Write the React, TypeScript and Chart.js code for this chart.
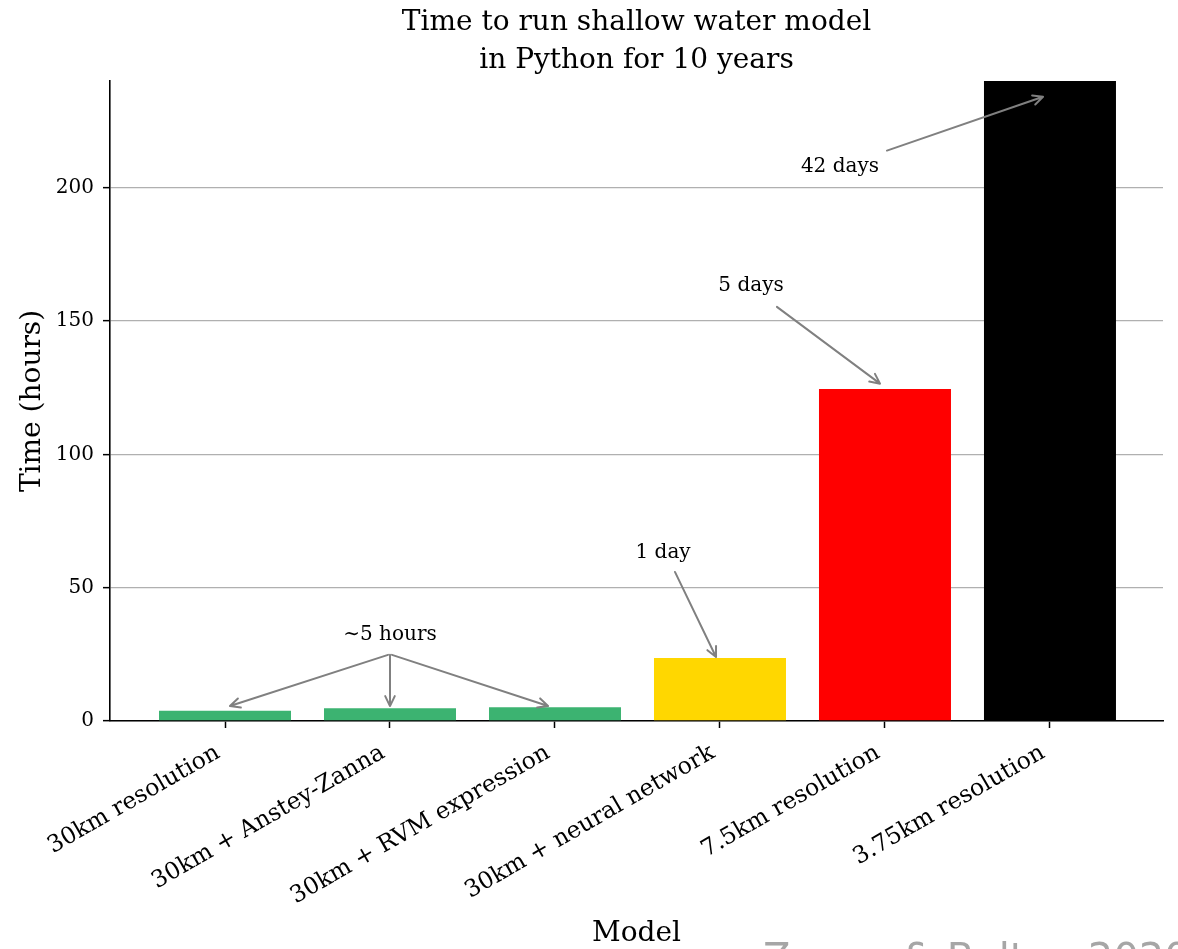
import { useEffect, useRef } from "react";
import { Chart, registerables } from "chart.js";

Chart.register(...registerables);

// Model variants and their run time (hours) for a 10-year simulation
const models = [
  "30km resolution",
  "30km + Anstey-Zanna",
  "30km + RVM expression",
  "30km + neural network",
  "7.5km resolution",
  "3.75km resolution",
];
const hours = [3.8, 4.8, 5.2, 23.6, 124.5, 1008];
const barColors = ["#3cb371", "#3cb371", "#3cb371", "#ffd700", "#ff0000", "#000000"];
const yTicks = [0, 50, 100, 150, 200];

// Text callouts, in data coordinates
const noteText = ["\u223c5 hours", "1 day", "5 days", "42 days"];
const noteX = [1.0, 2.655, 3.188, 3.727];
const noteY = [32.3, 63.0, 163.2, 207.9];

// Callout arrows (tail -> head), in data coordinates
const arrowTailX = [0.988, 1.0, 1.012, 2.727, 3.345, 4.012];
const arrowTailY = [24.8, 24.8, 24.8, 55.9, 155.3, 213.9];
const arrowHeadX = [0.03, 1.0, 1.958, 2.976, 3.97, 4.958];
const arrowHeadY = [5.6, 5.6, 5.6, 24.0, 126.5, 234.1];

const SERIF = "'DejaVu Serif', serif";

const notesPlugin = {
  id: "notes",
  afterDatasetsDraw(chart: any) {
    const { ctx, scales } = chart;
    const xs = scales.x;
    const ys = scales.y;
    ctx.save();
    ctx.strokeStyle = "#808080";
    ctx.lineWidth = 2;
    ctx.lineCap = "round";
    ctx.lineJoin = "round";
    for (let i = 0; i < arrowTailX.length; i++) {
      const x0 = xs.getPixelForValue(arrowTailX[i]);
      const y0 = ys.getPixelForValue(arrowTailY[i]);
      const x1 = xs.getPixelForValue(arrowHeadX[i]);
      const y1 = ys.getPixelForValue(arrowHeadY[i]);
      const ang = Math.atan2(y1 - y0, x1 - x0);
      const hl = 11;
      const ha = 0.45;
      ctx.beginPath();
      ctx.moveTo(x0, y0);
      ctx.lineTo(x1, y1);
      ctx.moveTo(x1 - hl * Math.cos(ang - ha), y1 - hl * Math.sin(ang - ha));
      ctx.lineTo(x1, y1);
      ctx.lineTo(x1 - hl * Math.cos(ang + ha), y1 - hl * Math.sin(ang + ha));
      ctx.stroke();
    }
    ctx.fillStyle = "#000";
    ctx.font = `20px ${SERIF}`;
    ctx.textAlign = "center";
    ctx.textBaseline = "middle";
    for (let i = 0; i < noteText.length; i++) {
      ctx.fillText(noteText[i], xs.getPixelForValue(noteX[i]), ys.getPixelForValue(noteY[i]));
    }
    ctx.restore();
  },
};

const creditPlugin = {
  id: "credit",
  afterDraw(chart: any) {
    const { ctx } = chart;
    ctx.save();
    ctx.fillStyle = "#a6a6a6";
    ctx.font = "40px 'DejaVu Sans', sans-serif";
    ctx.textAlign = "left";
    ctx.textBaseline = "alphabetic";
    ctx.fillText("Zanna & Bolton 2020", 763, 972);
    ctx.restore();
  },
};

export default function App() {
  const ref = useRef<HTMLCanvasElement>(null);

  useEffect(() => {
    if (!ref.current) return;
    const chart = new Chart(ref.current, {
      type: "bar",
      data: {
        datasets: [
          {
            data: hours.map((v, i) => ({ x: i, y: v })),
            backgroundColor: barColors,
            borderWidth: 0,
            barPercentage: 0.8,
            categoryPercentage: 1,
          },
        ],
      },
      options: {
        responsive: false,
        animation: false,
        devicePixelRatio: 1,
        layout: { padding: { left: 0, right: 15, top: 0, bottom: 0 } },
        plugins: {
          legend: { display: false },
          tooltip: { enabled: false },
          title: {
            display: true,
            fullSize: false,
            text: ["Time to run shallow water model", "in Python for 10 years"],
            color: "#000",
            font: { family: SERIF, size: 28, weight: "normal", lineHeight: 1.357 },
            padding: { top: 4, bottom: 1 },
          },
        },
        scales: {
          x: {
            type: "linear",
            min: -0.697,
            max: 5.685,
            offset: false,
            z: 1,
            afterBuildTicks: (s: any) => {
              s.ticks = models.map((_, i) => ({ value: i }));
            },
            afterFit: (s: any) => {
              s.height = 228;
            },
            grid: {
              offset: false,
              drawOnChartArea: false,
              drawTicks: true,
              tickLength: 7,
              tickColor: "#000",
              tickWidth: 1.5,
            },
            border: { display: true, color: "#000", width: 1.6 },
            ticks: {
              callback: (v: any) => models[Number(v)] ?? "",
              autoSkip: false,
              maxRotation: 30,
              minRotation: 30,
              color: "#000",
              font: { family: SERIF, size: 23.5, weight: "normal" },
              padding: 11,
              labelOffset: -7,
            },
            title: {
              display: true,
              text: "Model",
              color: "#000",
              font: { family: SERIF, size: 28, weight: "normal", lineHeight: 1 },
              padding: { top: 0, bottom: 1 },
            },
          },
          y: {
            min: 0,
            max: 240,
            afterBuildTicks: (s: any) => {
              s.ticks = yTicks.map((v) => ({ value: v }));
            },
            afterFit: (s: any) => {
              s.width = 110;
            },
            grid: {
              color: "#b0b0b0",
              lineWidth: 1.3,
              tickColor: "#000",
              tickLength: 7,
              tickWidth: 1.5,
            },
            border: { display: true, color: "#000", width: 1.6 },
            ticks: { color: "#000", font: { family: SERIF, size: 20, weight: "normal" }, padding: 9 },
            title: {
              display: true,
              text: "Time (hours)",
              color: "#000",
              font: { family: SERIF, size: 28, weight: "normal", lineHeight: 1.2 },
              padding: { top: 16, bottom: 0 },
            },
          },
        },
      },
      plugins: [notesPlugin, creditPlugin],
    });
    return () => chart.destroy();
  }, []);

  return (
    <div style={{ position: "absolute", left: 0, top: 0, width: 1178, height: 949 }}>
      <canvas ref={ref} width={1178} height={949} style={{ display: "block", width: 1178, height: 949 }} />
    </div>
  );
}
